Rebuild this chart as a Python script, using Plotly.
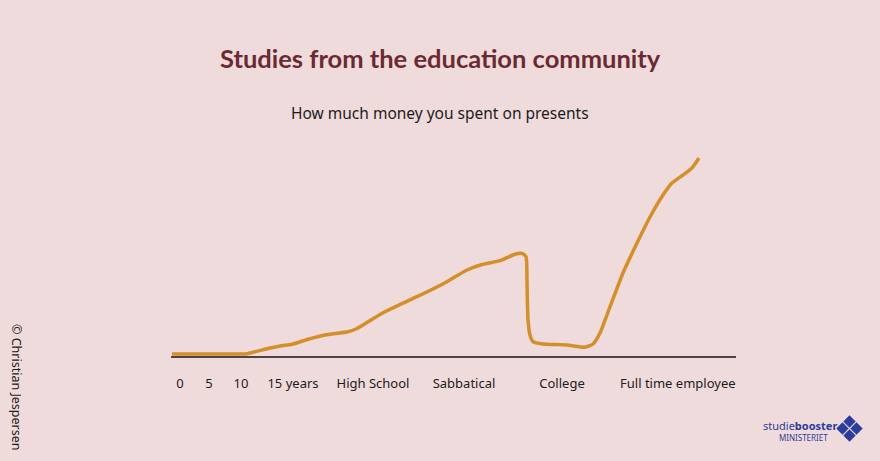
import plotly.graph_objects as go

# Life timeline position (0-100) and spending on presents (0-100)
life_stage = [0.18, 5.13, 10.44, 13.10, 14.34, 16.64, 19.29, 21.42, 24.25, 27.26,
              31.33, 32.74, 33.98, 37.52, 40.53, 43.54, 48.85, 52.39, 55.22, 58.23,
              60.53, 61.42, 62.12, 62.83, 63.01, 63.06, 63.19, 63.54, 64.07, 65.84,
              70.09, 73.27, 74.69, 75.93, 77.70, 80.00, 82.48, 84.78, 87.08, 88.67,
              90.62, 92.21, 93.45]
spending = [1.0, 1.0, 1.0, 1.0, 1.75, 3.35, 5.0, 5.85, 8.35, 10.5,
            12.15, 13.5, 15.5, 21.65, 25.75, 29.65, 37.15, 43.0, 45.85, 47.65,
            50.5, 51.25, 51.35, 49.65, 38.0, 29.5, 18.0, 10.5, 7.15, 6.0,
            5.5, 4.35, 6.0, 11.5, 24.65, 41.5, 56.5, 69.5, 80.5, 86.5,
            90.5, 94.0, 99.0]

tick_positions = [1.59, 6.73, 12.39, 21.59, 35.75, 51.86, 69.2, 89.7]
tick_labels = ["0", "5", "10", "15 years", "High School", "Sabbatical", "College",
               "Full time employee"]

BG = "#efdbdb"
W, H = 880, 461
L, R, T, B = 171, 144, 156, 105


def px(x):
    return (x - L) / (W - L - R)


def py(y):
    return (H - B - y) / (H - T - B)


fig = go.Figure()
fig.add_trace(go.Scatter(
    x=life_stage, y=spending, mode="lines",
    line=dict(color="#d48f2a", width=3.5, shape="spline", smoothing=0.5),
    hoverinfo="skip", showlegend=False,
))

annotations = [
    dict(text="<b>Studies from the education community</b>", x=px(440), y=py(58),
         font=dict(family="Lato", size=25.5, color="#6b2a32")),
    dict(text="How much money you spent on presents", x=px(440), y=py(113),
         font=dict(family="Noto Sans", size=15.5, color="#1c1c1c")),
    dict(text="© Christian Jespersen", x=px(17), y=py(387), textangle=90,
         font=dict(family="Noto Sans", size=12.5, color="#1c1c1c")),
    dict(text="studie<b>booster</b>", x=px(800), y=py(425),
         font=dict(family="Noto Sans", size=11, color="#2c3c9c")),
    dict(text="MINISTERIET", x=px(803), y=py(437),
         font=dict(family="Noto Sans", size=8, color="#2c3c9c")),
]
for a in annotations:
    a.update(xref="paper", yref="paper", showarrow=False, xanchor="center",
             yanchor="middle")

# Logo diamonds
shapes = []
cx, cy, h, off = 849.5, 428.5, 6.2, 7.0
for dx, dy in [(0, -off), (off, 0), (0, off), (-off, 0)]:
    x0, y0 = cx + dx, cy + dy
    path = (f"M {px(x0)},{py(y0 - h)} L {px(x0 + h)},{py(y0)} "
            f"L {px(x0)},{py(y0 + h)} L {px(x0 - h)},{py(y0)} Z")
    shapes.append(dict(type="path", path=path, xref="paper", yref="paper",
                       fillcolor="#2c3c9c", line=dict(width=0)))

fig.update_layout(
    width=W, height=H,
    margin=dict(l=L, r=R, t=T, b=B),
    paper_bgcolor=BG, plot_bgcolor=BG,
    annotations=annotations, shapes=shapes,
    xaxis=dict(range=[0, 100], showgrid=False, zeroline=False, showline=True,
               linecolor="#4d4446", linewidth=2, tickmode="array",
               tickvals=tick_positions, ticktext=tick_labels, ticks="",
               ticklabelstandoff=14,
               tickfont=dict(family="Noto Sans", size=13, color="#1c1c1c"),
               fixedrange=True),
    yaxis=dict(range=[0, 100], visible=False, fixedrange=True),
)

fig.write_html("out.html")
